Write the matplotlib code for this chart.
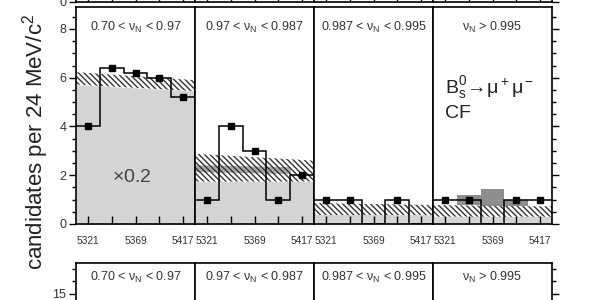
import matplotlib
matplotlib.use('Agg')
import matplotlib.pyplot as plt
import numpy as np
from matplotlib.ticker import MultipleLocator, FixedLocator, NullFormatter

plt.rcParams['font.family'] = ['Liberation Sans', 'DejaVu Sans']
plt.rcParams['mathtext.fontset'] = 'custom'
plt.rcParams['mathtext.rm'] = 'Liberation Sans'
plt.rcParams['mathtext.it'] = 'Liberation Sans:italic'
plt.rcParams['hatch.linewidth'] = 1.0

C_BKG = '#d4d4d4'     # light grey background fill
C_SIG = '#8e8e8e'     # dark grey expected signal
C_DARK = '#a8a8a8'    # overlap band in panel 2
C_HATCH = '#333333'
C_TEXT = '#333333'

# mass bins (MeV/c^2), 24 MeV wide
bin_centers = [5321, 5345, 5369, 5393, 5417]
bin_edges = [5309, 5333, 5357, 5381, 5405, 5429]
label_ticks = [5321, 5369, 5417]

panel_labels = [r'0.70 < $\mathrm{\nu_N}$ < 0.97',
                r'0.97 < $\mathrm{\nu_N}$ < 0.987',
                r'0.987 < $\mathrm{\nu_N}$ < 0.995',
                r'$\mathrm{\nu_N}$ > 0.995']

# observed candidates per bin
counts = [[4.0, 6.4, 6.2, 6.0, 5.2],
          [1.0, 4.0, 3.0, 1.0, 2.0],
          [1.0, 1.0, 0.0, 1.0, 0.0],
          [1.0, 1.0, 0.0, 1.0, 1.0]]

# background band edges, (left edge, right edge) of each panel
bkg_low = [(5.72, 5.45), (1.74, 1.74), (0.37, 0.37), (0.30, 0.30)]
bkg_high = [(6.23, 5.90), (2.88, 2.60), (0.86, 0.78), (0.78, 0.72)]

# darker overlap band in panel 2 (x from 5309 to 5405)
dark_x = [5309, 5405]
dark_low = [2.15, 2.07]
dark_high = [2.43, 2.35]

# expected signal (total height) in the last panel
signal_top = [0.0, 1.19, 1.43, 0.97, 0.0]

fig = plt.figure(figsize=(6, 3), dpi=100)

W, H = 600.0, 300.0
x_left, x_right = 76, 552
pw = (x_right - x_left) / 4.0
ph = 217.0


def make_row(top_px, ylim, major_ticks, minor):
    axes = []
    for i in range(4):
        ax = fig.add_axes([(x_left + i * pw) / W, 1 - (top_px + ph) / H,
                           pw / W, ph / H])
        ax.set_xlim(bin_edges[0], bin_edges[-1])
        ax.set_ylim(*ylim)
        ax.xaxis.set_major_locator(FixedLocator(label_ticks))
        ax.xaxis.set_minor_locator(FixedLocator([5345, 5393]))
        ax.yaxis.set_major_locator(FixedLocator(major_ticks))
        ax.yaxis.set_minor_locator(MultipleLocator(minor))
        ax.tick_params(axis='x', which='both', direction='in', length=6,
                       width=1.0, pad=9, labelsize=7.3, labelcolor=C_TEXT)
        ax.tick_params(axis='y', which='both', direction='out', width=1.0,
                       labelsize=9, labelcolor=C_TEXT, pad=2)
        ax.tick_params(axis='y', which='major', length=5)
        ax.tick_params(axis='y', which='minor', length=3)
        if i > 0:
            ax.tick_params(axis='y', which='both', left=False, labelleft=False)
        if i == 3:
            ax.tick_params(axis='y', which='both', right=True, labelright=False)
        for sp in ax.spines.values():
            sp.set_linewidth(1.2)
        axes.append(ax)
    return axes


# row above (only its bottom edge is visible)
top_axes = make_row(2 - ph, (0, 9), [0], 0.5)
for ax in top_axes:
    ax.xaxis.set_major_formatter(NullFormatter())

# main row
main_axes = make_row(7, (0, 8.9), [0, 2, 4, 6, 8], 0.5)
for i, ax in enumerate(main_axes):
    x = [bin_edges[0], bin_edges[-1]]
    ax.fill_between(x, 0, bkg_low[i], color=C_BKG, linewidth=0, zorder=1)
    if i == 1:
        ax.fill_between(dark_x, dark_low, dark_high, color=C_DARK,
                        linewidth=0, zorder=1.5)
    if i == 3:
        base = np.interp(bin_centers, x, bkg_high[i])
        top = np.array(signal_top)
        keep = top > base
        ax.bar(np.array(bin_centers)[keep], (top - base)[keep], width=24,
               bottom=base[keep], color=C_SIG, linewidth=0, zorder=1.6)
    ax.fill_between(x, bkg_low[i], bkg_high[i], facecolor='none',
                    edgecolor=C_HATCH, hatch='\\\\\\\\\\\\', linewidth=0,
                    zorder=2)
    ax.stairs(counts[i], bin_edges, baseline=None, color='black',
              linewidth=1.1, zorder=3)
    c = np.array(counts[i])
    nz = c > 0
    ax.plot(np.array(bin_centers)[nz], c[nz], 's', color='black',
            markersize=4.3, zorder=4)
    ax.text(0.5, 0.908, panel_labels[i], transform=ax.transAxes,
            ha='center', va='center', fontsize=9, color=C_TEXT)

main_axes[0].text(5365, 1.9, r'$\times$0.2', ha='center', va='center',
                  fontsize=14, color='#444444')
main_axes[3].text(0.1, 0.63, r'$\mathrm{B_s^0\!\rightarrow\!\mu^+\mu^-}$',
                  transform=main_axes[3].transAxes, ha='left', va='center',
                  fontsize=14, color='#222222')
main_axes[3].text(0.1, 0.51, 'CF', transform=main_axes[3].transAxes,
                  ha='left', va='center', fontsize=14, color='#222222')

# row below (only its top part is visible)
low_axes = make_row(262.7, (0, 17.5), [15], 1)
for i, ax in enumerate(low_axes):
    ax.xaxis.set_major_formatter(NullFormatter())
    ax.text(0.5, 0.934, panel_labels[i], transform=ax.transAxes,
            ha='center', va='center', fontsize=9, color=C_TEXT)

fig.text(0.06, 0.527, r'candidates per 24 MeV/c$^2$', rotation=90,
         ha='center', va='center', fontsize=16, color='#222222')

fig.savefig('out.png', dpi=100)
